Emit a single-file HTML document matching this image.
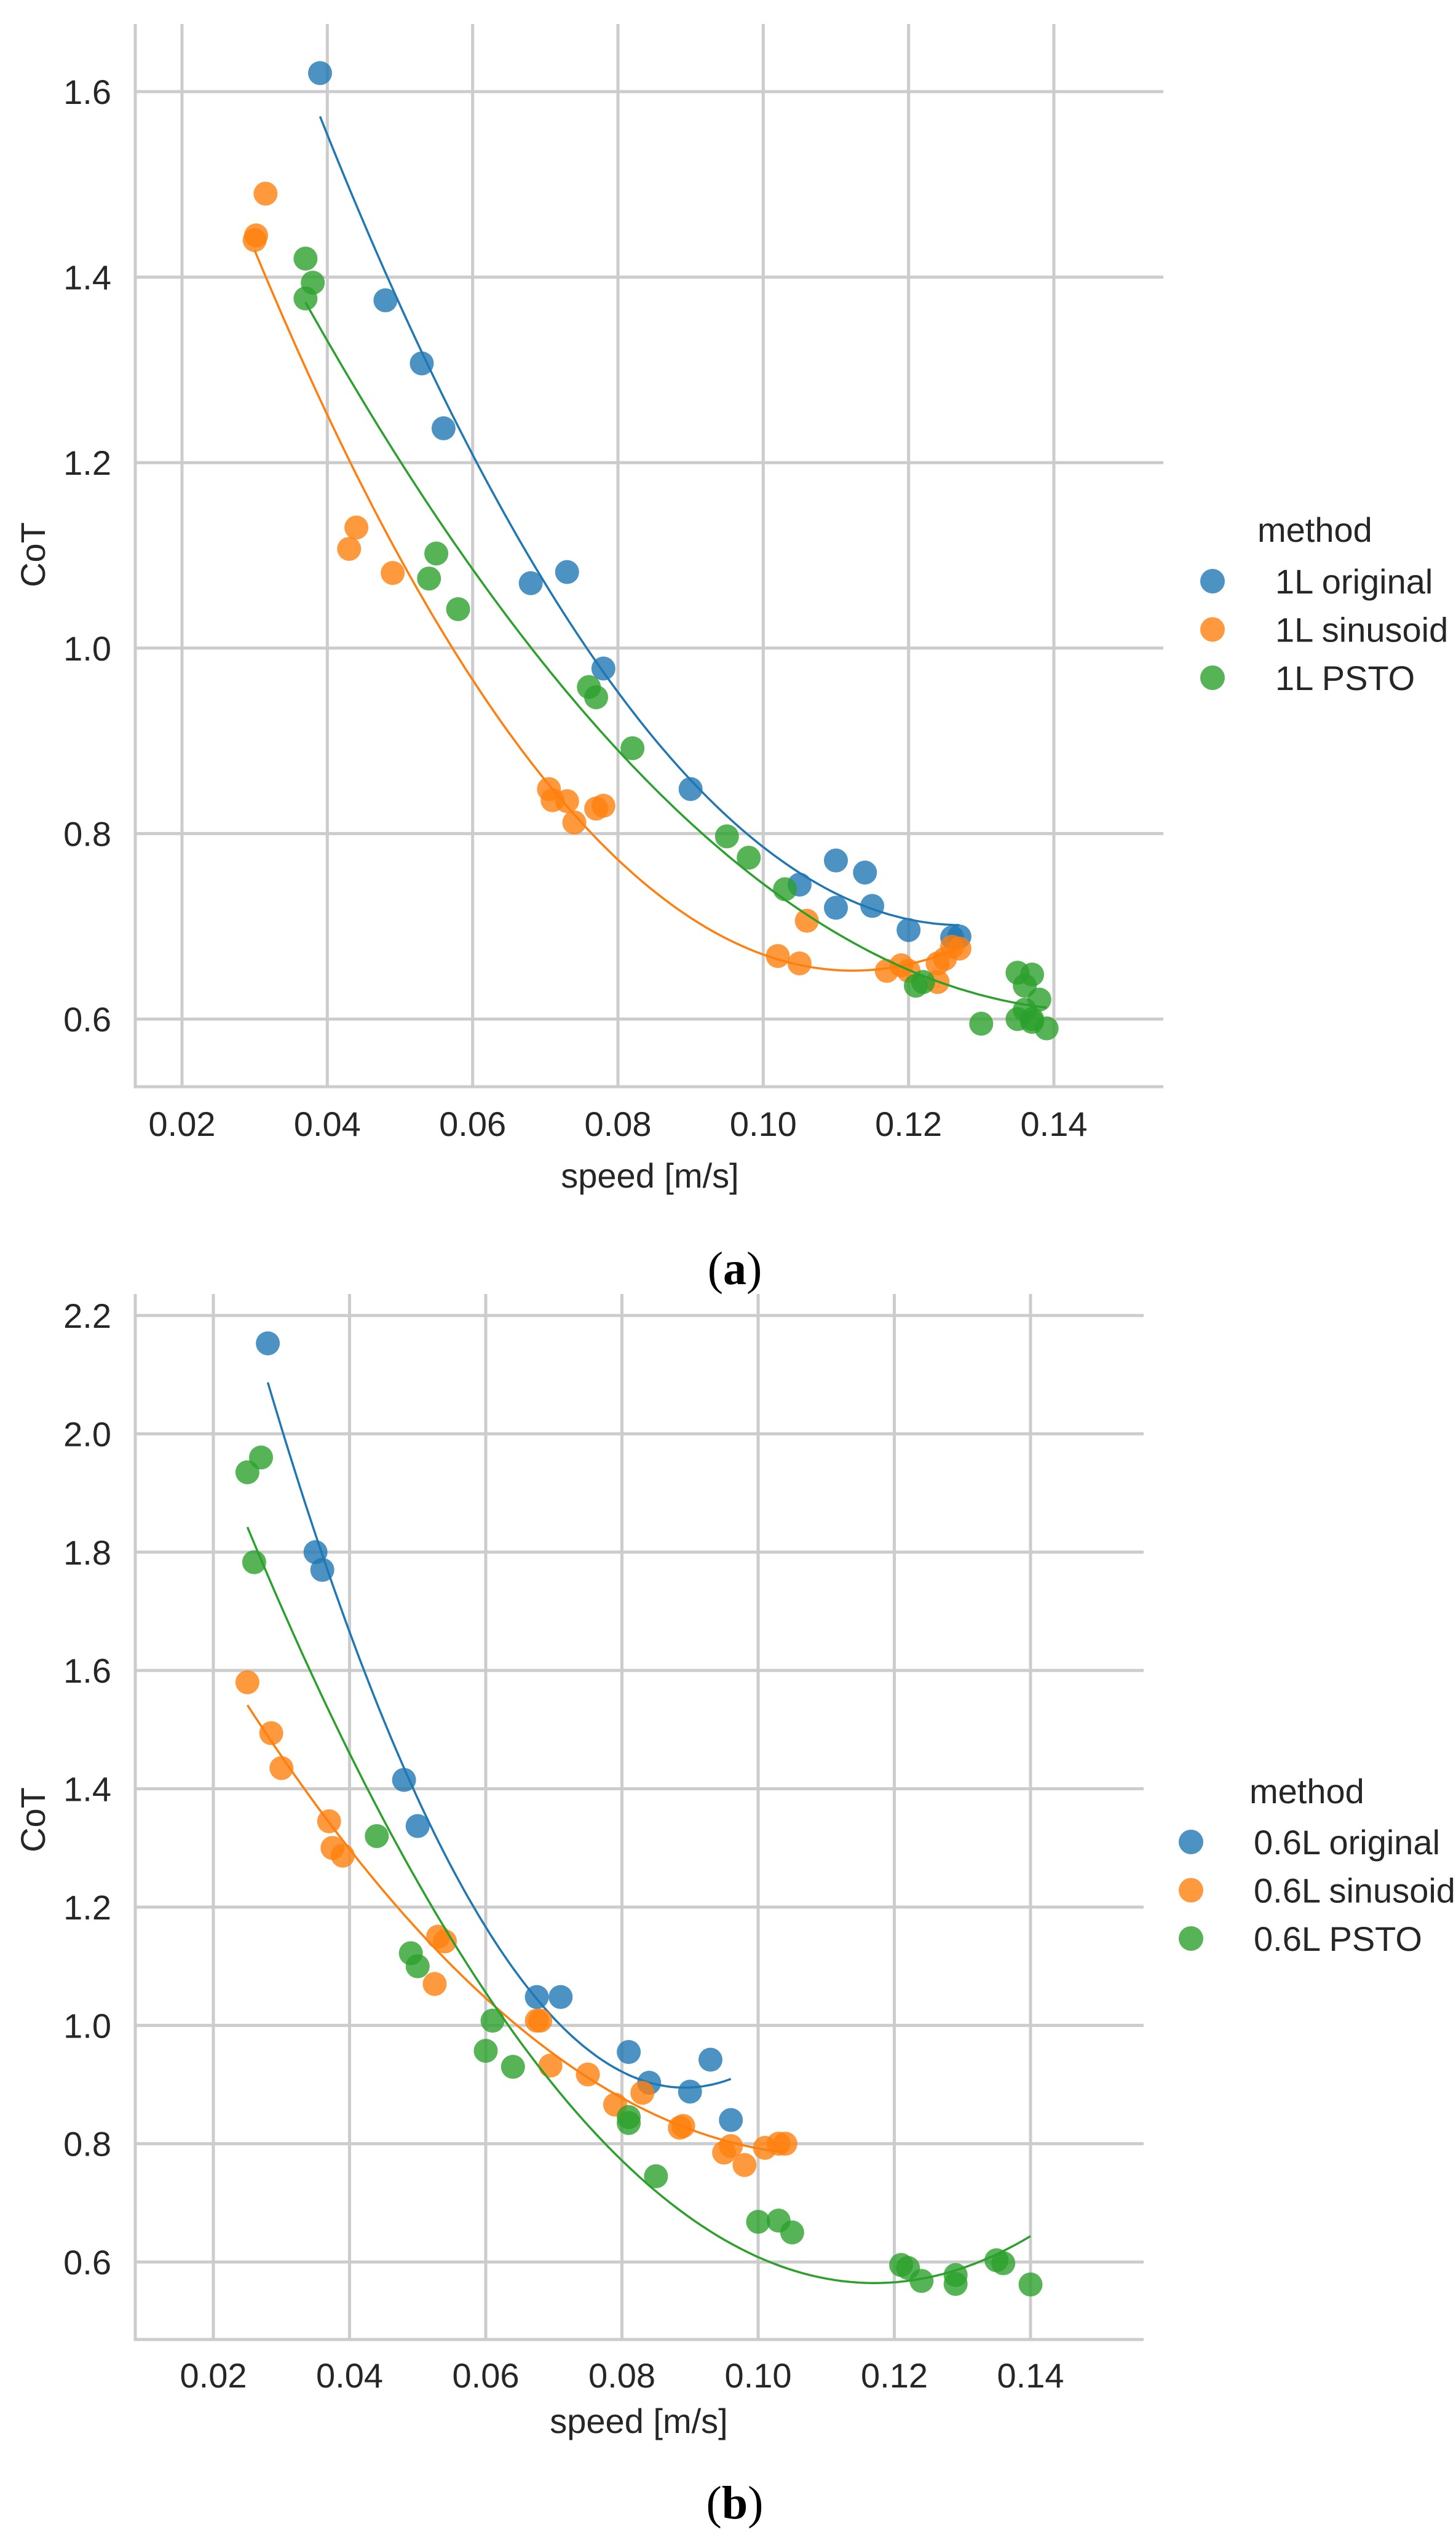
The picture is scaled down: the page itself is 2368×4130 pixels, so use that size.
<!DOCTYPE html>
<html><head><meta charset="utf-8"><style>
html,body{margin:0;padding:0;background:#fff}
svg{display:block}
text{font-family:"Liberation Sans",Arial,sans-serif;fill:#262626}
.cap{font-family:"Liberation Serif",serif;fill:#000}
</style></head><body>
<svg id="fig" width="2368" height="4130" viewBox="0 0 2368 4130" xmlns="http://www.w3.org/2000/svg">
<g id="pa"></g>
<g id="pb"></g>
<text class="cap" x="1195" y="2088" font-size="76" text-anchor="middle">(<tspan font-weight="bold">a</tspan>)</text>
<text class="cap" x="1195" y="4095" font-size="76" text-anchor="middle">(<tspan font-weight="bold">b</tspan>)</text>
</svg>
<script>
// ---- Panel (a) data ----
const aXTicks = [0.02,0.04,0.06,0.08,0.10,0.12,0.14];
const aXTickLabels = ["0.02","0.04","0.06","0.08","0.10","0.12","0.14"];
const aYTicks = [0.6,0.8,1.0,1.2,1.4,1.6];
const aYTickLabels = ["0.6","0.8","1.0","1.2","1.4","1.6"];
const aSeriesNames = ["1L original","1L sinusoid","1L PSTO"];
const aOrigX = [0.039,0.048,0.053,0.056,0.068,0.073,0.078,0.090,0.105,0.110,0.110,0.114,0.115,0.120,0.126,0.127];
const aOrigY = [1.62,1.375,1.307,1.237,1.070,1.082,0.978,0.848,0.745,0.720,0.771,0.758,0.722,0.696,0.688,0.689];
const aSinX = [0.030,0.0302,0.0315,0.043,0.044,0.049,0.0705,0.071,0.073,0.074,0.077,0.078,0.102,0.105,0.106,0.117,0.119,0.120,0.124,0.124,0.125,0.126,0.127];
const aSinY = [1.44,1.445,1.49,1.107,1.13,1.081,0.848,0.836,0.835,0.812,0.827,0.830,0.668,0.660,0.706,0.652,0.658,0.652,0.660,0.640,0.665,0.678,0.676];
const aPstoX = [0.037,0.038,0.037,0.054,0.055,0.058,0.076,0.077,0.082,0.095,0.098,0.103,0.121,0.122,0.130,0.135,0.135,0.136,0.137,0.136,0.137,0.138,0.139,0.137];
const aPstoY = [1.42,1.394,1.377,1.075,1.102,1.042,0.958,0.947,0.892,0.797,0.774,0.740,0.636,0.640,0.595,0.650,0.600,0.636,0.648,0.610,0.597,0.621,0.590,0.600];

// ---- Panel (b) data ----
const bXTicks = [0.02,0.04,0.06,0.08,0.10,0.12,0.14];
const bXTickLabels = ["0.02","0.04","0.06","0.08","0.10","0.12","0.14"];
const bYTicks = [0.6,0.8,1.0,1.2,1.4,1.6,1.8,2.0,2.2];
const bYTickLabels = ["0.6","0.8","1.0","1.2","1.4","1.6","1.8","2.0","2.2"];
const bSeriesNames = ["0.6L original","0.6L sinusoid","0.6L PSTO"];
const bOrigX = [0.028,0.035,0.036,0.048,0.050,0.0675,0.071,0.081,0.084,0.090,0.093,0.096];
const bOrigY = [2.153,1.80,1.77,1.415,1.337,1.048,1.048,0.955,0.903,0.888,0.942,0.840];
const bSinX = [0.025,0.0285,0.030,0.037,0.0375,0.039,0.0525,0.053,0.054,0.0675,0.068,0.0695,0.075,0.079,0.083,0.0885,0.089,0.095,0.096,0.098,0.101,0.103,0.104];
const bSinY = [1.58,1.494,1.435,1.345,1.30,1.287,1.07,1.15,1.142,1.008,1.008,0.932,0.917,0.866,0.886,0.827,0.830,0.785,0.796,0.764,0.793,0.800,0.800];
const bPstoX = [0.025,0.027,0.026,0.044,0.049,0.050,0.060,0.061,0.064,0.081,0.081,0.085,0.100,0.103,0.105,0.121,0.122,0.124,0.129,0.129,0.135,0.136,0.140];
const bPstoY = [1.935,1.96,1.783,1.32,1.122,1.10,0.957,1.008,0.930,0.845,0.835,0.745,0.668,0.670,0.650,0.595,0.590,0.568,0.578,0.563,0.603,0.598,0.562];

const NS = "http://www.w3.org/2000/svg";
const colors = ["#1f77b4","#ff7f0e","#2ca02c"];
function mk(parent, tag, attrs){const e=document.createElementNS(NS,tag);for(const k in attrs)e.setAttribute(k,attrs[k]);parent.appendChild(e);return e;}

function quadFit(xs, ys){
  let S=[0,0,0,0,0],T=[0,0,0];
  for(let i=0;i<xs.length;i++){let p=1;for(let k=0;k<5;k++){S[k]+=p;if(k<3)T[k]+=p*ys[i];p*=xs[i];}}
  const M=[[S[0],S[1],S[2],T[0]],[S[1],S[2],S[3],T[1]],[S[2],S[3],S[4],T[2]]];
  for(let c=0;c<3;c++){for(let r=c+1;r<3;r++){const f=M[r][c]/M[c][c];for(let k=c;k<4;k++)M[r][k]-=f*M[c][k];}}
  const b=[0,0,0];
  for(let r=2;r>=0;r--){let s=M[r][3];for(let k=r+1;k<3;k++)s-=M[r][k]*b[k];b[r]=s/M[r][r];}
  return b;
}

function drawPanel(g, cfg){
  const X = v => cfg.x0px + (v-cfg.x0)*(cfg.x1px-cfg.x0px)/(cfg.x1-cfg.x0);
  const Y = v => cfg.y0px + (v-cfg.y0)*(cfg.y1px-cfg.y0px)/(cfg.y1-cfg.y0);
  const grid = mk(g,"g",{});
  
  
  cfg.xt.forEach((t,i)=>{
    const l=mk(grid,"line",{x1:X(t),x2:X(t),y1:cfg.top,y2:cfg.bottom,stroke:"#cccccc","stroke-width":5});
    
    
    const tx=mk(g,"text",{x:X(t),y:cfg.xlabY,"font-size":56,"text-anchor":"middle"});
    tx.textContent=cfg.xtl[i];
    
    
  });
  cfg.yt.forEach((t,i)=>{
    const l=mk(grid,"line",{x1:cfg.left,x2:cfg.right,y1:Y(t),y2:Y(t),stroke:"#cccccc","stroke-width":5});
    
    
    const tx=mk(g,"text",{x:181,y:Y(t)+20,"font-size":56,"text-anchor":"end"});
    tx.textContent=cfg.ytl[i];
    
    
  });
  const sp=mk(g,"path",{d:`M${cfg.left},${cfg.top} V${cfg.bottom} H${cfg.right}`,fill:"none",stroke:"#cccccc","stroke-width":5});
  
  
  cfg.series.forEach((s,si)=>{
    const sg=mk(g,"g",{});
    
    
    s.xs.forEach((x,i)=>{
      const c=mk(sg,"circle",{cx:X(x),cy:Y(s.ys[i]),r:19.5,fill:colors[si],"fill-opacity":0.8});
      
      
    });
    const b=quadFit(s.xs,s.ys);
    const mn=Math.min(...s.xs), mx=Math.max(...s.xs);
    let d="";
    for(let k=0;k<=100;k++){const x=mn+(mx-mn)*k/100;const y=b[0]+b[1]*x+b[2]*x*x;d+=(k?"L":"M")+X(x).toFixed(1)+","+Y(y).toFixed(1);}
    const p=mk(sg,"path",{d:d,fill:"none",stroke:colors[si],"stroke-width":3.5});
    
    
  });
  const xl=mk(g,"text",{x:cfg.xTitleX,y:cfg.xTitleY,"font-size":56,"text-anchor":"middle"});
  xl.textContent="speed [m/s]";
  
  
  const yl=mk(g,"text",{x:0,y:0,"font-size":56,"text-anchor":"middle",transform:`translate(73,${cfg.yTitleY}) rotate(-90)`});
  yl.textContent="CoT";
  
  
  const lg=mk(g,"g",{});
  
  
  const lt=mk(lg,"text",{x:cfg.legTitleX,y:cfg.legY,"font-size":56});
  lt.textContent="method";
  
  
  cfg.series.forEach((s,si)=>{
    const cy=cfg.legY+cfg.legOff+si*78.5;
    const e=mk(lg,"g",{});
    
    
    mk(e,"circle",{cx:cfg.legX,cy:cy,r:20,fill:colors[si],"fill-opacity":0.8});
    const t=mk(e,"text",{x:cfg.legX+102,y:cy+20,"font-size":56});
    t.textContent=s.name;
  });
}

drawPanel(document.getElementById('pa'),{
  x0:0.02,x1:0.14,x0px:296,x1px:1714,y0:0.6,y1:1.6,y0px:1657,y1px:149,
  left:220,right:1892,top:39,bottom:1767,xlabY:1847,xTitleX:1057,xTitleY:1931,yTitleY:902,
  legX:1972,legY:881,legTitleX:2045,legOff:64,xt:aXTicks,xtl:aXTickLabels,yt:aYTicks,ytl:aYTickLabels,
  series:[{name:aSeriesNames[0],xs:aOrigX,ys:aOrigY},{name:aSeriesNames[1],xs:aSinX,ys:aSinY},{name:aSeriesNames[2],xs:aPstoX,ys:aPstoY}]
});
drawPanel(document.getElementById('pb'),{
  x0:0.02,x1:0.14,x0px:347,x1px:1676,y0:0.6,y1:2.2,y0px:3678,y1px:2139,
  left:220,right:1860,top:2104,bottom:3804,xlabY:3882,xTitleX:1039,xTitleY:3956,yTitleY:2959,
  legX:1937,legY:2932,legTitleX:2032,legOff:63,xt:bXTicks,xtl:bXTickLabels,yt:bYTicks,ytl:bYTickLabels,
  series:[{name:bSeriesNames[0],xs:bOrigX,ys:bOrigY},{name:bSeriesNames[1],xs:bSinX,ys:bSinY},{name:bSeriesNames[2],xs:bPstoX,ys:bPstoY}]
});
</script>
</body></html>
